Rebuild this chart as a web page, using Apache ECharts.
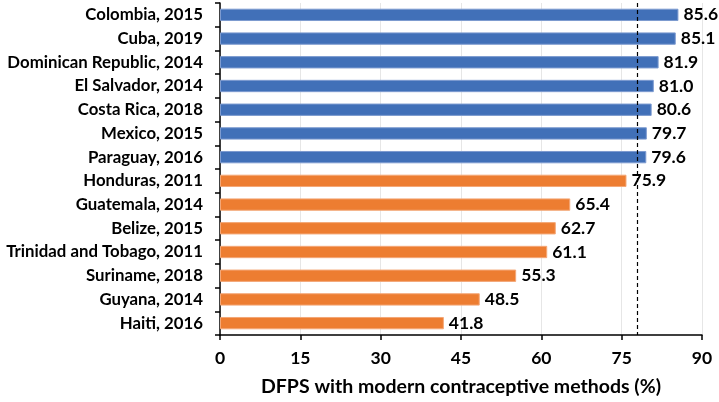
<!DOCTYPE html>
<html><head><meta charset="utf-8">
<script src="https://cdn.jsdelivr.net/npm/echarts@6/dist/echarts.min.js"></script>
<style>html,body{margin:0;padding:0;background:#fff}#c{width:719px;height:402px}</style>
</head><body><div id="c"></div>
<script>
const categories = ["Colombia, 2015","Cuba, 2019","Dominican Republic, 2014","El Salvador, 2014","Costa Rica, 2018","Mexico, 2015","Paraguay, 2016","Honduras, 2011","Guatemala, 2014","Belize, 2015","Trinidad and Tobago, 2011","Suriname, 2018","Guyana, 2014","Haiti, 2016"];
const values = [85.6,85.1,81.9,81.0,80.6,79.7,79.6,75.9,65.4,62.7,61.1,55.3,48.5,41.8];
const groupHigh = [true,true,true,true,true,true,true,false,false,false,false,false,false,false];
const referenceLine = 78;
const xTicks = {min:0,max:90,interval:15};
const axisTitle = "DFPS with modern contraceptive methods (%)";

const FONT = "Lato";
const chart = echarts.init(document.getElementById('c'));
chart.setOption({
  animation:false,
  grid:{left:220,right:17,top:3,bottom:62},
  xAxis:{type:'value',min:xTicks.min,max:xTicks.max,interval:xTicks.interval,
    name:axisTitle,nameLocation:'middle',nameGap:42,
    nameTextStyle:{fontFamily:FONT,fontWeight:'bold',fontSize:19.5,color:'#000'},
    axisLine:{show:true,lineStyle:{color:'#000',width:1.5}},
    axisTick:{show:true,length:5,lineStyle:{color:'#000',width:1.5}},
    axisLabel:{fontFamily:FONT,fontWeight:'bold',fontSize:17.5,color:'#000',margin:14},
    splitLine:{show:true,lineStyle:{color:'#e6e6e6',width:1}}},
  yAxis:{type:'category',data:categories,inverse:true,
    axisLine:{show:true,lineStyle:{color:'#000',width:1.5}},
    axisTick:{show:true,length:5,lineStyle:{color:'#000',width:1.5}},
    axisLabel:{fontFamily:FONT,fontWeight:'bold',fontSize:16.8,color:'#000',margin:17}},
  series:[{type:'bar',barWidth:'52%',
    data:values.map((v,i)=>({value:v,itemStyle:{color:groupHigh[i]?'#4170B8':'#ED7D31',borderColor:groupHigh[i]?'#7d9bd0':'#f4a878',borderWidth:1}})),
    label:{show:true,position:'right',distance:5,fontFamily:FONT,fontWeight:'bold',fontSize:17.5,color:'#000',formatter:p=>p.value.toFixed(1)},
    markLine:{silent:true,symbol:'none',label:{show:false},
      lineStyle:{color:'#000',type:[4,3],width:1.2},
      data:[{xAxis:referenceLine}]}
  }]
});
</script></body></html>
